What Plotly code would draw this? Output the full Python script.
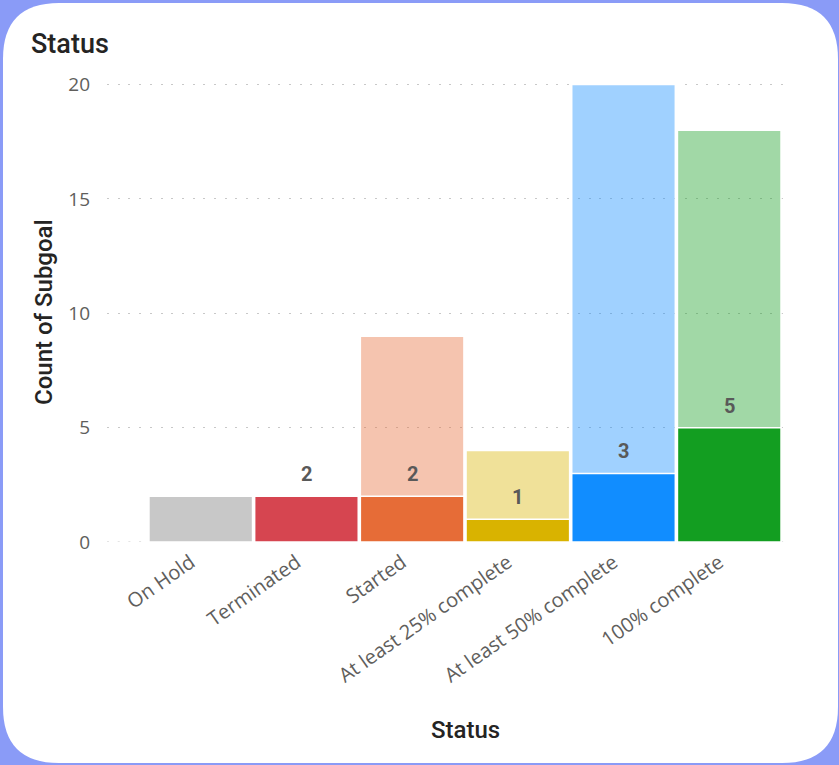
import plotly.graph_objects as go

categories = ["On Hold", "Terminated", "Started", "At least 25% complete",
              "At least 50% complete", "100% complete"]
totals = [2, 2, 9, 4, 20, 18]
done = [None, 2, 2, 1, 3, 5]
y_ticks = [0, 5, 10, 15, 20]

dark_colors = ["#C8C8C8", "#D64550", "#E66C37", "#D9B300", "#118DFF", "#139E21"]


def lighten(hex_color, alpha=0.4):
    h = hex_color.lstrip("#")
    r, g, b = int(h[0:2], 16), int(h[2:4], 16), int(h[4:6], 16)
    return "rgba(%d,%d,%d,%.2f)" % (r, g, b, alpha)


light_colors = [dark_colors[0]] + [lighten(c) for c in dark_colors[1:]]

W, H = 839, 765
L, R, T, B = 107, 49, 80, 223
PW, PH = W - L - R, H - T - B
GRID_DASH = "2px,8.7px"


def px2paper(x, y):
    return (x - L) / PW, (H - B - y) / PH


fig = go.Figure()
fig.add_trace(go.Bar(
    x=categories, y=totals, marker=dict(color=light_colors, line=dict(color="white", width=1.5)),
    hoverinfo="skip", showlegend=False))
fig.add_trace(go.Bar(
    x=categories, y=done, marker=dict(color=dark_colors, line=dict(color="white", width=1.5)),
    hoverinfo="skip", showlegend=False))

annotations = []
for c, v in zip(categories, done):
    if v is None:
        continue
    annotations.append(dict(x=c, y=v, xref="x", yref="y", text=str(v), showarrow=False,
                            yanchor="bottom", yshift=8,
                            font=dict(family="Roboto", size=20, color="#595959", weight="bold")))

# card background with rounded corners
x0, y0 = px2paper(3, 3)
x1, y1 = px2paper(838, 763)
rx = 56 / PW
ry = 56 / PH
path = (f"M {x0+rx},{y0} L {x1-rx},{y0} Q {x1},{y0} {x1},{y0-ry} "
        f"L {x1},{y1+ry} Q {x1},{y1} {x1-rx},{y1} "
        f"L {x0+rx},{y1} Q {x0},{y1} {x0},{y1+ry} "
        f"L {x0},{y0-ry} Q {x0},{y0} {x0+rx},{y0} Z")

tx, ty = px2paper(29, 44)
annotations.append(dict(x=tx, y=ty, xref="paper", yref="paper", text="Status", showarrow=False,
                        xanchor="left", yanchor="middle",
                        font=dict(family="Roboto", size=27, color="#252423", weight=500)))
ax, ay = px2paper(44, 312)
annotations.append(dict(x=ax, y=ay, xref="paper", yref="paper", text="Count of Subgoal",
                        showarrow=False, textangle=-90, xanchor="center", yanchor="middle",
                        font=dict(family="Roboto", size=24, color="#252423", weight=500)))
bx, by = px2paper(465, 730)
annotations.append(dict(x=bx, y=by, xref="paper", yref="paper", text="Status", showarrow=False,
                        xanchor="center", yanchor="middle",
                        font=dict(family="Roboto", size=24, color="#252423", weight=500)))

fig.update_layout(
    width=W, height=H,
    margin=dict(l=L, r=R, t=T, b=B),
    paper_bgcolor="#8A9BF7",
    plot_bgcolor="rgba(0,0,0,0)",
    barmode="overlay",
    bargap=0.02,
    shapes=[dict(type="path", path=path, xref="paper", yref="paper",
                 fillcolor="white", line=dict(width=0), layer="below"),
            dict(type="line", xref="paper", yref="y", x0=0, x1=1, y0=0, y1=0,
                 line=dict(color="#C8C8C8", width=1, dash=GRID_DASH), layer="below")],
    annotations=annotations,
    xaxis=dict(range=[-0.887, 5.575], tickangle=-35, showgrid=False, zeroline=False,
               showline=False, ticks="", ticklabelstandoff=4, ticklabelshift=-10,
               tickfont=dict(family="Open Sans", size=20, color="#605E5C")),
    yaxis=dict(range=[0, 20.2], tickvals=y_ticks, showgrid=True, gridcolor="#C8C8C8",
               griddash=GRID_DASH, gridwidth=1, zeroline=False, showline=False,
               ticks="", ticklabelstandoff=16,
               tickfont=dict(family="Open Sans", size=19, color="#605E5C")),
)

fig.write_html("out.html")
